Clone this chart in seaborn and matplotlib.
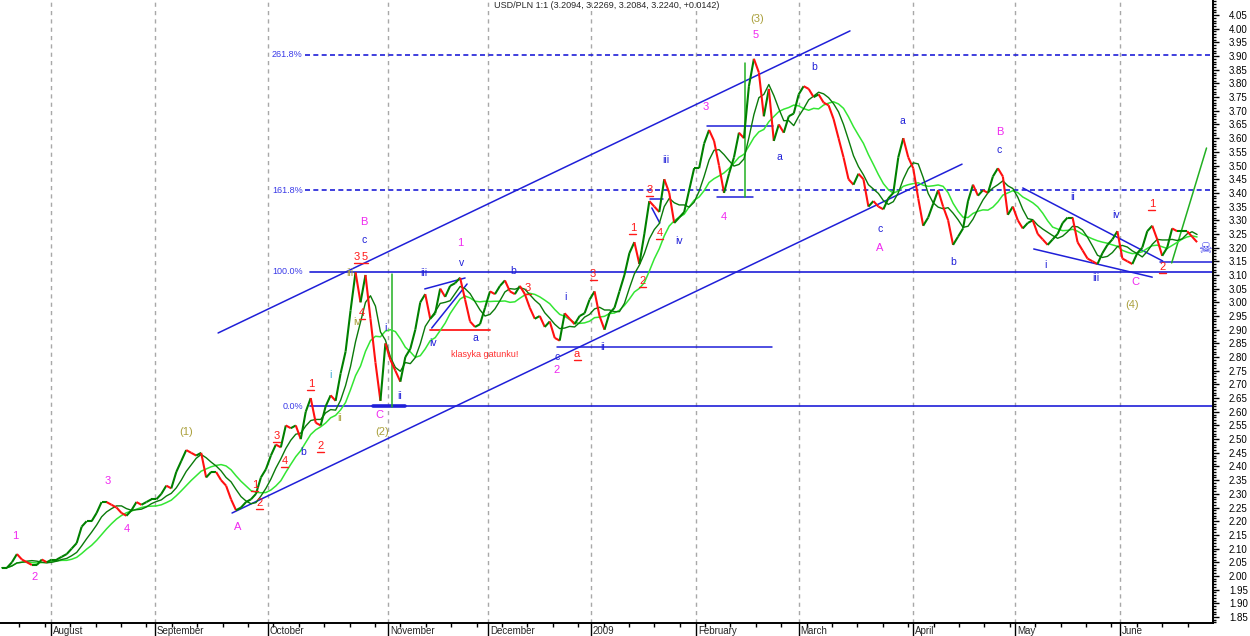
"""USD/PLN daily chart, Jul 2008 - Jun 2009, with Elliott wave counts,
fibonacci levels and channel lines.

Writes: out.png
"""

import matplotlib
matplotlib.use("Agg")
import matplotlib.pyplot as plt
import matplotlib.transforms as mtransforms
from matplotlib.collections import LineCollection
from matplotlib.ticker import MultipleLocator, FormatStrFormatter, FixedLocator
import numpy as np
import pandas as pd
import seaborn as sns

TITLE = "USD/PLN 1:1 (3.2094, 3.2269, 3.2084, 3.2240, +0.0142)"

# daily closes, one value per trading bar
CLOSE = [
    2.03, 2.03, 2.05, 2.08, 2.06, 2.05, 2.04, 2.04, 2.06, 2.05,
    2.06, 2.06, 2.07, 2.08, 2.10, 2.12, 2.18, 2.20, 2.20, 2.23,
    2.27, 2.27, 2.26, 2.25, 2.23, 2.22, 2.24, 2.27, 2.26, 2.27,
    2.28, 2.28, 2.30, 2.33, 2.32, 2.38, 2.42, 2.46, 2.45, 2.44,
    2.45, 2.36, 2.38, 2.38, 2.35, 2.33, 2.28, 2.24, 2.25, 2.27,
    2.28, 2.30, 2.36, 2.39, 2.44, 2.48, 2.47, 2.55, 2.54, 2.55,
    2.50, 2.60, 2.65, 2.56, 2.55, 2.62, 2.66, 2.64, 2.74, 2.82,
    2.97, 3.11, 3.00, 3.10, 2.94, 2.78, 2.64, 2.85, 2.79, 2.75,
    2.71, 2.80, 2.83, 2.90, 3.00, 3.03, 2.94, 2.96, 3.05, 3.02,
    3.06, 3.07, 3.09, 3.01, 2.93, 2.91, 2.92, 2.98, 3.04, 3.03,
    3.06, 3.08, 3.04, 3.03, 3.06, 3.03, 2.98, 2.94, 2.95, 2.91,
    2.93, 2.87, 2.86, 2.96, 2.94, 2.92, 2.95, 2.96, 3.01, 3.04,
    2.95, 2.90, 2.96, 2.98, 3.04, 3.10, 3.18, 3.22, 3.14, 3.25,
    3.37, 3.35, 3.33, 3.45, 3.40, 3.29, 3.31, 3.33, 3.41, 3.49,
    3.49, 3.58, 3.63, 3.59, 3.50, 3.40, 3.47, 3.53, 3.62, 3.60,
    3.79, 3.89, 3.84, 3.68, 3.78, 3.59, 3.65, 3.62, 3.68, 3.69,
    3.76, 3.79, 3.78, 3.75, 3.76, 3.73, 3.72, 3.67, 3.60, 3.53,
    3.45, 3.43, 3.47, 3.45, 3.35, 3.37, 3.35, 3.34, 3.38, 3.40,
    3.53, 3.60, 3.53, 3.49, 3.38, 3.28, 3.31, 3.36, 3.41, 3.35,
    3.30, 3.21, 3.24, 3.27, 3.37, 3.43, 3.39, 3.41, 3.40, 3.46,
    3.49, 3.46, 3.32, 3.35, 3.30, 3.27, 3.29, 3.30, 3.25, 3.23,
    3.21, 3.23, 3.25, 3.29, 3.31, 3.31, 3.22, 3.19, 3.16, 3.15,
    3.14, 3.18, 3.21, 3.23, 3.26, 3.16, 3.15, 3.14, 3.18, 3.20,
    3.26, 3.28, 3.23, 3.17, 3.20, 3.27, 3.26, 3.26, 3.26, 3.24,
    3.22,
]

MONTH_LABELS = ["August", "September", "October", "November", "December", "2009",
                "February", "March", "April", "May", "June"]
MONTH_START_BAR = [9.8, 30.7, 53.4, 77.5, 97.6, 118.3, 139.4, 160.0, 182.9, 203.4, 224.5]

# fibonacci levels
FIB_LABELS = ["261.8%", "161.8%", "100.0%", "0.0%"]
FIB_LEVELS = [3.904, 3.41, 3.111, 2.621]
FIB_DASHED = [True, True, False, False]

# wave labels: (bar, price, text)
MAGENTA_LABELS = [
    (2.6, 2.146, "1"), (6.6, 1.996, "2"), (21.3, 2.347, "3"), (25.1, 2.171, "4"),
    (47.4, 2.179, "A"), (72.7, 3.293, "B"), (75.9, 2.588, "C"), (92.0, 3.217, "1"),
    (111.4, 2.753, "2"), (141.4, 3.714, "3"), (145.0, 3.312, "4"), (151.4, 3.977, "5"),
    (176.3, 3.198, "A"), (200.4, 3.622, "B"), (227.7, 3.074, "C"),
]
BLUE_LABELS = [
    (72.7, 3.228, "c"), (60.4, 2.453, "b"), (77.1, 2.906, "i"), (79.9, 2.657, "ii"),
    (84.7, 3.107, "iii"), (86.5, 2.851, "iv"), (92.2, 3.144, "v"), (95.0, 2.869, "a"),
    (102.6, 3.114, "b"), (111.4, 2.800, "c"), (113.1, 3.019, "i"), (120.7, 2.837, "ii"),
    (133.3, 3.520, "iii"), (135.9, 3.224, "iv"), (156.2, 3.531, "a"), (163.1, 3.860, "b"),
    (176.3, 3.268, "c"), (180.9, 3.663, "a"), (191.0, 3.147, "b"), (200.2, 3.557, "c"),
    (209.6, 3.136, "i"), (215.1, 3.385, "ii"), (219.7, 3.089, "iii"), (223.7, 3.319, "iv"),
]
RED_LABELS = [
    (62.0, 2.701, "1"), (63.9, 2.475, "2"), (55.2, 2.511, "3"), (56.8, 2.420, "4"),
    (50.8, 2.332, "1"), (51.8, 2.266, "2"), (71.3, 3.166, "3"), (72.9, 3.166, "5"),
    (72.3, 2.961, "4"), (118.7, 3.103, "3"), (115.5, 2.811, "a"), (105.6, 3.052, "3"),
    (126.7, 3.272, "1"), (128.7, 3.078, "2"), (130.1, 3.410, "3"), (132.1, 3.253, "4"),
    (230.9, 3.359, "1"), (233.1, 3.129, "2"),
]
DEGREE_LABELS = [
    (36.9, 2.526, "(1)"), (76.3, 2.526, "(2)"), (151.6, 4.035, "(3)"), (226.9, 2.990, "(4)"),
]
MINOR_LABELS = [
    (65.9, 2.734, "i"), (67.9, 2.577, "ii"), (69.9, 3.107, "iii"), (71.3, 2.928, "iv"),
]

# drawn lines: (bar0, price0, bar1, price1)
BLUE_LINES = [
    (43.4, 2.888, 170.3, 3.992),   # upper channel
    (46.2, 2.230, 192.8, 3.505),   # lower channel
    (205.0, 3.418, 233.1, 3.151),  # wedge top
    (207.2, 3.195, 231.0, 3.092),  # wedge bottom
    (232.5, 3.147, 243.2, 3.147),
    (84.9, 3.049, 93.0, 3.089),
    (86.3, 2.906, 93.4, 3.067),
    (111.4, 2.837, 154.6, 2.837),
    (141.6, 3.644, 154.8, 3.644),
    (143.6, 3.385, 150.8, 3.385),
    (130.1, 3.377, 132.7, 3.377),
    (130.5, 3.345, 132.1, 3.290),
]
RED_LINES = [(86.0, 2.899, 98.0, 2.899)]
GREEN_LINES = [
    (78.3, 3.103, 78.3, 2.617),
    (149.2, 3.875, 149.2, 3.385),
    (234.9, 3.144, 241.9, 3.564),
]

UP, DOWN = "#008000", "#ff1010"
MA_FAST, MA_SLOW = "#0a7a0a", "#33e633"
BLUE, MAGENTA, RED, OLIVE = "#1f1fd8", "#f028f0", "#ff1a1a", "#aaa03c"
FONT = ["Liberation Sans", "DejaVu Sans"]


def main() -> None:
    sns.set_theme(style="white")
    plt.rcParams["font.family"] = FONT

    df = pd.DataFrame({"bar": np.arange(len(CLOSE)), "close": CLOSE})
    df["ma5"] = df["close"].rolling(5, min_periods=1).mean()
    df["ma10"] = df["close"].rolling(10, min_periods=1).mean()

    fig = plt.figure(figsize=(12.5, 6.36), dpi=100)
    ax = fig.add_axes([0, 13 / 636, 1213 / 1250, 623 / 636])
    ax.set_facecolor("white")
    ax.set_xlim(-0.4, 243.2)
    ax.set_ylim(1.828, 4.105)

    # month separators
    for pos in MONTH_START_BAR:
        ax.axvline(pos, color="#a8a8a8", lw=1, ls=(0, (3, 3)), zorder=0)

    # fibonacci levels
    for lab, lev, dashed in zip(FIB_LABELS, FIB_LEVELS, FIB_DASHED):
        x0 = 60.8 if dashed else 61.8
        ax.plot([x0, 243.2], [lev, lev], color=BLUE, lw=1.2,
                ls=(0, (3, 2)) if dashed else "-", zorder=1)
        ax.text(60.4, lev, lab, color="#3a3ae8", fontsize=6.5, ha="right", va="center")
    ax.plot([74.5, 80.9], [2.621, 2.621], color=BLUE, lw=2.6, zorder=1)

    for x0, y0, x1, y1 in BLUE_LINES:
        ax.plot([x0, x1], [y0, y1], color=BLUE, lw=1.1, zorder=1)
    for x0, y0, x1, y1 in RED_LINES:
        ax.plot([x0, x1], [y0, y1], color=RED, lw=1.3, zorder=1)
    for x0, y0, x1, y1 in GREEN_LINES:
        ax.plot([x0, x1], [y0, y1], color="#22b022", lw=1.1, zorder=1)

    # moving averages
    sns.lineplot(data=df, x="bar", y="ma10", color=MA_SLOW, lw=1.1, ax=ax, zorder=2)
    sns.lineplot(data=df, x="bar", y="ma5", color=MA_FAST, lw=1.0, ax=ax, zorder=2)

    # price, coloured by direction
    pts = df[["bar", "close"]].to_numpy()
    segs = np.stack([pts[:-1], pts[1:]], axis=1)
    cols = [UP if b >= a else DOWN for a, b in zip(CLOSE[:-1], CLOSE[1:])]
    ax.add_collection(LineCollection(segs, colors=cols, linewidths=1.5, zorder=3))

    # wave labels
    for x, y, t in MAGENTA_LABELS:
        ax.text(x, y, t, color=MAGENTA, fontsize=8, ha="center", va="center", zorder=5)
    for x, y, t in BLUE_LABELS:
        ax.text(x, y, t, color=BLUE, fontsize=7.5, ha="center", va="center", zorder=5)
    for x, y, t in RED_LABELS:
        ax.text(x, y, t, color=RED, fontsize=8, ha="center", va="center", zorder=5)
        ax.plot([x - 0.7, x + 0.7], [y - 0.022, y - 0.022], color=RED, lw=1, zorder=5)
    for x, y, t in DEGREE_LABELS:
        ax.text(x, y, t, color=OLIVE, fontsize=8, ha="center", va="center", zorder=5)
    for x, y, t in MINOR_LABELS:
        c = "#3aa8d0" if t == "i" else OLIVE
        ax.text(x, y, t, color=c, fontsize=7.5, ha="center", va="center", zorder=5)
    ax.text(97.0, 2.811, "klasyka gatunku!", color="#ff3030", fontsize=6.5,
            ha="center", va="center", zorder=5)
    ax.text(241.6, 3.195, "\u2620", color="#3a3ae8", fontsize=11,
            family="DejaVu Sans", ha="center", va="center", zorder=5)

    # axes styling
    ax.set_xlabel("")
    ax.set_ylabel("")
    for side in ("left", "top"):
        ax.spines[side].set_visible(False)
    for side in ("right", "bottom"):
        ax.spines[side].set_color("black")
        ax.spines[side].set_linewidth(1.4)

    ax.yaxis.tick_right()
    ax.yaxis.set_major_locator(FixedLocator(np.arange(1.85, 4.06, 0.05)))
    ax.yaxis.set_minor_locator(MultipleLocator(0.01))
    ax.yaxis.set_major_formatter(FormatStrFormatter("%.2f"))
    ax.tick_params(axis="y", which="major", length=4.5, width=1, colors="black",
                   labelsize=7, pad=7, right=True, left=False)
    ax.tick_params(axis="y", which="minor", length=2, width=1, colors="black",
                   right=True, left=False)

    ax.xaxis.set_major_locator(FixedLocator(MONTH_START_BAR))
    ax.xaxis.set_minor_locator(FixedLocator(np.arange(3.5, 243, 5.1)))
    ax.tick_params(axis="x", which="major", length=10, width=1, colors="black",
                   labelbottom=False, bottom=True)
    ax.tick_params(axis="x", which="minor", length=3, width=1, colors="black",
                   bottom=True)
    trans = mtransforms.blended_transform_factory(ax.transData, ax.transAxes)
    for pos, lab in zip(MONTH_START_BAR, MONTH_LABELS):
        ax.text(pos + 0.4, -0.0135, lab, transform=trans, fontsize=7,
                ha="left", va="center", clip_on=False)

    fig.text(607 / 1250, 1 - 6 / 636, TITLE, fontsize=6.5, ha="center", va="center")

    fig.savefig("out.png", dpi=100, facecolor="white")
    plt.close(fig)


if __name__ == "__main__":
    main()
